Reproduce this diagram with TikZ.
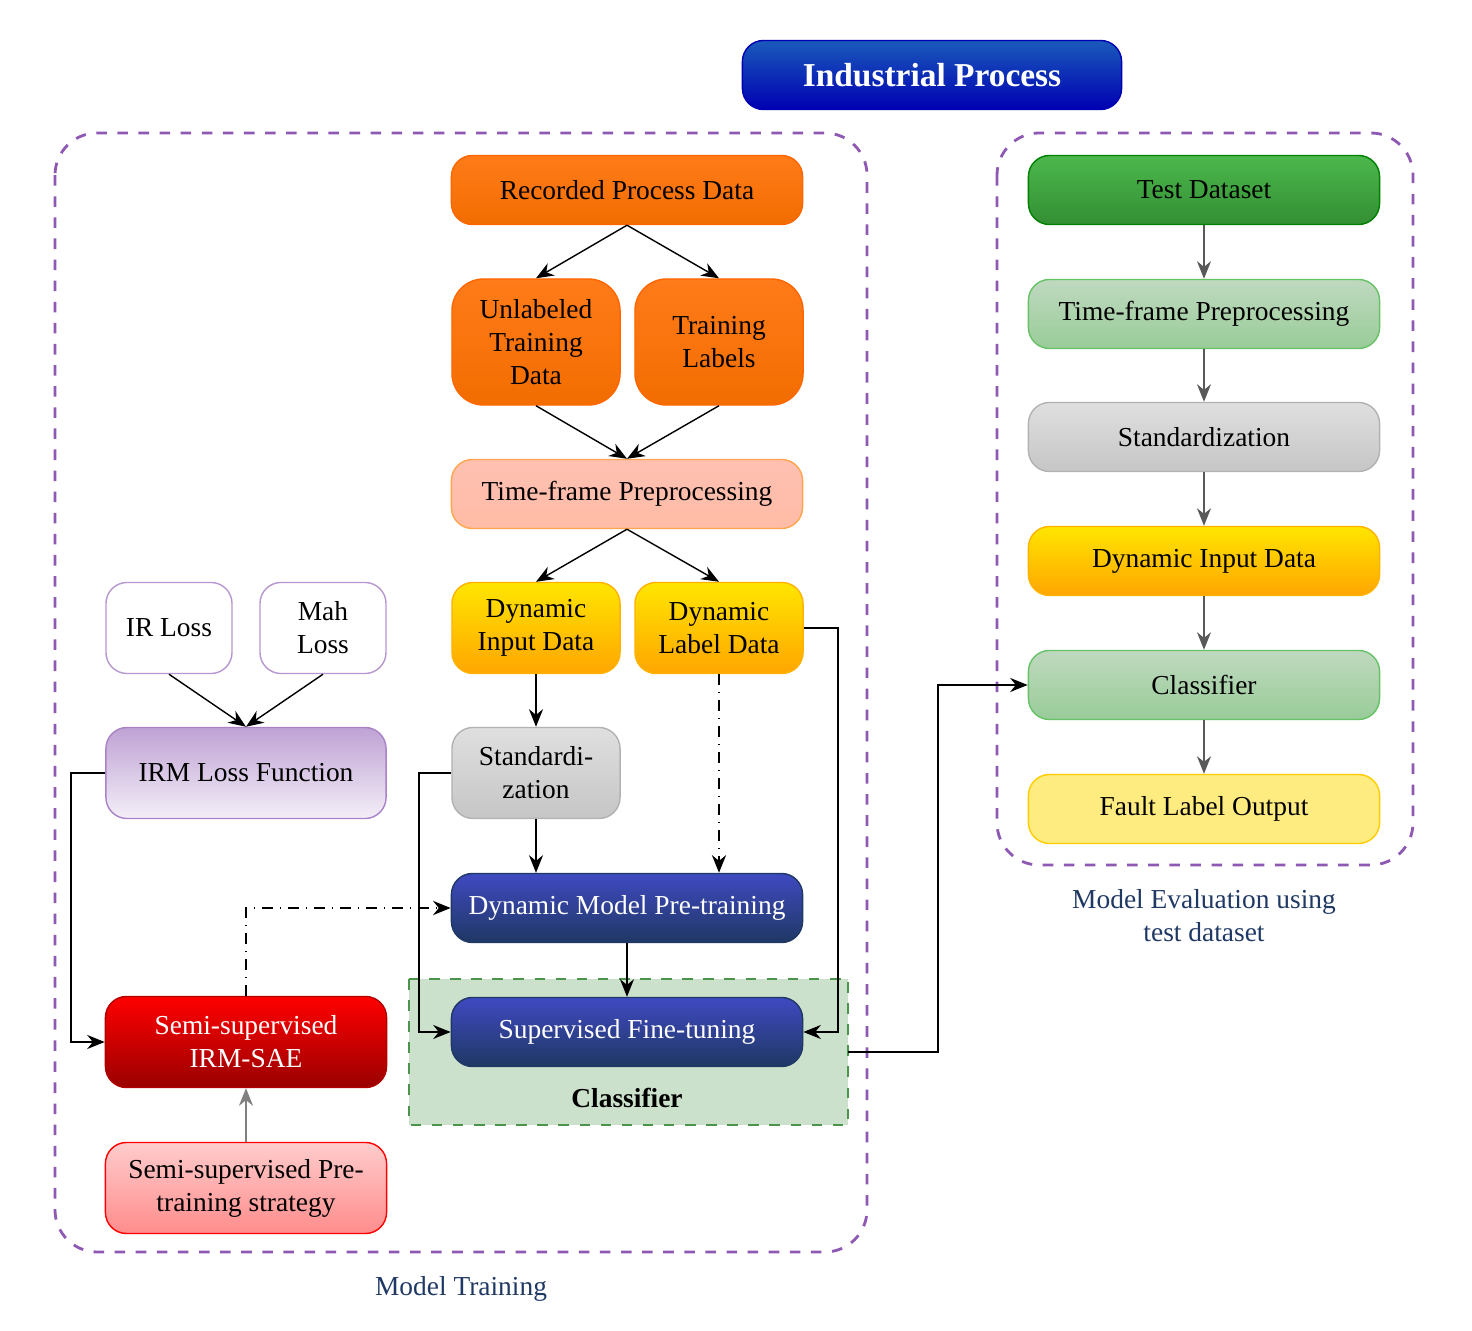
\documentclass[tikz,border=0pt]{standalone}
\usepackage{fontspec}
\setmainfont{Liberation Serif}
\usetikzlibrary{arrows.meta}
\definecolor{dkblue}{HTML}{1F3864}
\definecolor{frame}{HTML}{7030A0}
\tikzset{
  blk/.style 2 args={rounded corners=6pt, minimum width=#1cm, minimum height=#2cm,
    align=center, font=\fontsize{7.8}{9.4}\selectfont, inner sep=1pt},
  orangebox/.style={draw=orange!80!red, top color=orange!85!red!90, bottom color=orange!90!red!95!black},
  salmonbox/.style={draw=orange!70, top color=orange!35!red!30!white, bottom color=orange!50!red!35!white},
  yellowbox/.style={draw=orange!60!yellow, top color=yellow!80!orange, bottom color=orange!70!yellow},
  lyellowbox/.style={draw=orange!40!yellow, fill=orange!30!yellow!50!white},
  graybox/.style={draw=gray!60, top color=gray!25, bottom color=gray!45},
  navybox/.style={draw=dkblue, top color=blue!50!dkblue!80, bottom color=dkblue, text=white},
  greenbox/.style={draw=green!50!black, top color=green!60!black!70, bottom color=green!45!black!80},
  lgreenbox/.style={draw=green!60!black!60, top color=green!40!black!25!white, bottom color=green!50!black!40!white},
  lossbox/.style={draw=frame!50, fill=white},
  purplebox/.style={draw=frame!60, top color=frame!45!white, bottom color=frame!8!white},
  redbox/.style={draw=red!70!black, top color=red, bottom color=red!60!black, text=white},
  pinkbox/.style={draw=red, top color=red!20!white, bottom color=red!45!white},
  arr/.style={-{Stealth[length=5pt,width=4pt]}, line width=0.4pt},
  dd/.style={arr, dash dot, line width=0.7pt},
  region/.style={draw=frame!80, dashed, line width=0.8pt, rounded corners=12pt}
}
\begin{document}
\begin{tikzpicture}[x=0.01cm, y=-0.01cm]
\useasboundingbox (0,0) rectangle (1472,1331);
% frames
\draw[region] (55,133) rectangle (867,1252);
\draw[region] (997,133) rectangle (1413,865);
\draw[draw=green!40!black!70, dashed, line width=0.8pt, fill=green!40!black!25!white, fill opacity=0.8]
  (409,979) rectangle (848,1125);
\node[font=\fontsize{7.8}{9.4}\selectfont\bfseries] (clslbl) at (627,1098) {Classifier};
\coordinate (clsout) at (848,1052);

% top
\node[blk={3.79}{0.69}, draw=blue!70!black, top color=blue!60!cyan!70!black!90, bottom color=blue!70!black,
  text=white, font=\fontsize{9.5}{11}\selectfont\bfseries] (ind) at (932,75) {Industrial Process};

% model training
\node[blk={3.51}{0.69}, orangebox] (rec) at (627,190) {Recorded Process Data};
\node[blk={1.68}{1.26}, orangebox, rounded corners=9pt] (unl) at (536,342) {Unlabeled\\Training\\Data};
\node[blk={1.68}{1.26}, orangebox, rounded corners=9pt] (tlab) at (719,342) {Training\\Labels};
\node[blk={3.51}{0.69}, salmonbox] (tfp) at (627,494) {Time-frame Preprocessing};
\node[blk={1.68}{0.91}, yellowbox] (din) at (536,628) {Dynamic\\Input Data};
\node[blk={1.68}{0.91}, yellowbox] (dlab) at (719,628) {Dynamic\\Label Data};
\node[blk={1.26}{0.91}, lossbox] (ir) at (169,628) {IR Loss};
\node[blk={1.26}{0.91}, lossbox] (mah) at (323,628) {Mah\\Loss};
\node[blk={2.80}{0.91}, purplebox] (irm) at (246,773) {IRM Loss Function};
\node[blk={1.68}{0.91}, graybox] (std) at (536,773) {Standardi-\\zation};
\node[blk={3.51}{0.69}, navybox] (dmp) at (627,908) {Dynamic Model Pre-training};
\node[blk={3.51}{0.69}, navybox] (sft) at (627,1032) {Supervised Fine-tuning};
\node[blk={2.81}{0.91}, redbox] (sae) at (246,1042) {Semi-supervised\\IRM-SAE};
\node[blk={2.81}{0.91}, pinkbox] (pre) at (246,1188) {Semi-supervised Pre-\\training strategy};

% evaluation
\node[blk={3.51}{0.69}, greenbox] (test) at (1204,190) {Test Dataset};
\node[blk={3.51}{0.69}, lgreenbox] (rtfp) at (1204,314) {Time-frame Preprocessing};
\node[blk={3.51}{0.69}, graybox] (rstd) at (1204,437) {Standardization};
\node[blk={3.51}{0.69}, yellowbox] (rdin) at (1204,561) {Dynamic Input Data};
\node[blk={3.51}{0.69}, lgreenbox] (rcls) at (1204,685) {Classifier};
\node[blk={3.51}{0.69}, lyellowbox] (rout) at (1204,809) {Fault Label Output};

\node[align=center, text=dkblue, font=\fontsize{7.8}{9.4}\selectfont] (evlbl) at (1204,916) {Model Evaluation using\\test dataset};
\node[text=dkblue, font=\fontsize{7.8}{9.4}\selectfont] (trlbl) at (461,1289) {Model Training};

% connectors
\draw[arr] (rec.south) -- (unl.north);
\draw[arr] (rec.south) -- (tlab.north);
\draw[arr] (unl.south) -- (tfp.north);
\draw[arr] (tlab.south) -- (tfp.north);
\draw[arr] (tfp.south) -- (din.north);
\draw[arr] (tfp.south) -- (dlab.north);
\draw[arr] (din) -- (std);
\draw[arr] (std.south) -- (std.south |- dmp.north);
\draw[dd] (dlab.south) -- (dlab.south |- dmp.north);
\draw[arr] (dmp) -- (sft);
\draw[arr] (dlab.east) -- (838,628) -- (838,1032) -- (sft.east);
\draw[arr] (std.west) -- (419,773) -- (419,1032) -- (sft.west);
\draw[arr] (ir.south) -- (irm.north);
\draw[arr] (mah.south) -- (irm.north);
\draw[arr] (irm.west) -- (71,773) -- (71,1042) -- (sae.west);
\draw[dd] (sae.north) -- (246,908) -- (dmp.west);
\draw[arr, draw=gray] (pre) -- (sae);
\draw[arr] (clsout) -- (938,1052) -- (938,685) -- (rcls.west);
\draw[arr, draw=gray!70!black] (test) -- (rtfp);
\draw[arr, draw=gray!70!black] (rtfp) -- (rstd);
\draw[arr, draw=gray!70!black] (rstd) -- (rdin);
\draw[arr, draw=gray!70!black] (rdin) -- (rcls);
\draw[arr, draw=gray!70!black] (rcls) -- (rout);
\end{tikzpicture}
\end{document}
